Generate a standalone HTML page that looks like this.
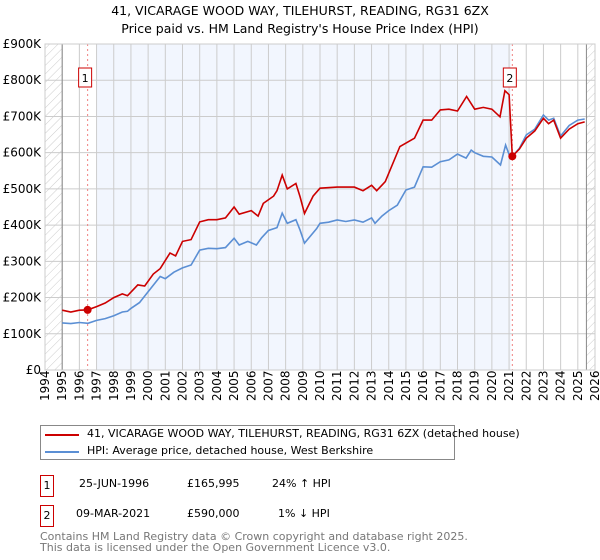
<!DOCTYPE html>
<html><head><meta charset="utf-8"><style>
body{margin:0;background:#fff;font-family:"DejaVu Sans","Liberation Sans",sans-serif;}
#wrap{position:relative;width:600px;height:560px;overflow:hidden}
.t{position:absolute;font-size:12px;color:#000;white-space:nowrap}
svg text{font-family:"DejaVu Sans","Liberation Sans",sans-serif}
</style></head><body><div id="wrap">
<svg id="svg" width="600" height="560" style="position:absolute;left:0;top:0">
<defs><pattern id="hatch" width="6" height="6" patternUnits="userSpaceOnUse" patternTransform="rotate(45)"><line x1="0" y1="0" x2="0" y2="6" stroke="#ccc" stroke-width="1"/></pattern></defs>
<text x="300" y="15" text-anchor="middle" font-size="12.5">41, VICARAGE WOOD WAY, TILEHURST, READING, RG31 6ZX</text>
<text x="300" y="33" text-anchor="middle" font-size="12.5">Price paid vs. HM Land Registry's House Price Index (HPI)</text>
<g id="plot"></g>
</svg>
<div class="t" style="left:40px;top:425px;width:415px;height:35px;border:1px solid #888;box-sizing:border-box"></div>
<div style="position:absolute;left:45px;top:434px;width:34px;height:2px;background:#cc0000"></div>
<div class="t" style="left:87px;top:427px;font-size:11px">41, VICARAGE WOOD WAY, TILEHURST, READING, RG31 6ZX (detached house)</div>
<div style="position:absolute;left:45px;top:451px;width:34px;height:2px;background:#5b8fd4"></div>
<div class="t" style="left:87px;top:444px;font-size:11px">HPI: Average price, detached house, West Berkshire</div>
<div class="t" style="left:40px;top:475px;width:12px;height:20px;border:1px solid #c00;text-align:center;line-height:20px;font-size:11px">1</div>
<div class="t" style="left:79px;top:477px;font-size:11px">25-JUN-1996</div>
<div class="t" style="left:187px;top:477px;font-size:11px">£165,995</div>
<div class="t" style="left:272px;top:477px;font-size:11px">24% ↑ HPI</div>
<div class="t" style="left:40px;top:505px;width:12px;height:20px;border:1px solid #c00;text-align:center;line-height:20px;font-size:11px">2</div>
<div class="t" style="left:76px;top:507px;font-size:11px">09-MAR-2021</div>
<div class="t" style="left:187px;top:507px;font-size:11px">£590,000</div>
<div class="t" style="left:278px;top:507px;font-size:11px">1% ↓ HPI</div>
<div class="t" style="left:40px;top:531px;font-size:11px;color:#777;line-height:11px">Contains HM Land Registry data © Crown copyright and database right 2025.<br>This data is licensed under the Open Government Licence v3.0.</div>
</div>
<script>
const hpiYears=[1995,1995.5,1996,1996.5,1997,1997.5,1998,1998.5,1998.8,1999,1999.5,2000,2000.7,2001,2001.5,2002,2002.5,2003,2003.5,2004,2004.5,2005,2005.3,2005.8,2006.3,2006.6,2007,2007.5,2007.8,2008.1,2008.6,2008.84,2009.1,2009.8,2010,2010.5,2011,2011.5,2012,2012.5,2013,2013.2,2013.6,2014,2014.5,2015,2015.5,2016,2016.5,2017,2017.5,2018,2018.5,2018.8,2019,2019.5,2020,2020.5,2020.8,2021,2021.2,2021.6,2022,2022.5,2023,2023.3,2023.6,2024,2024.5,2025,2025.4];
const hpiValues=[130,128,131,129,137,142,150,160,162,170,186,216,258,252,270,282,290,331,336,335,338,364,345,355,345,365,385,393,433,405,415,386,350,390,405,408,414,410,414,408,420,405,425,440,455,497,505,561,560,575,580,596,585,607,600,590,588,566,621,595,590,612,649,665,704,690,695,646,675,690,693];
const saleYears=[1995,1995.5,1996,1996.48,1997,1997.5,1998,1998.5,1998.8,1999.4,1999.8,2000.3,2000.7,2001.27,2001.6,2002,2002.5,2003,2003.5,2004,2004.5,2005,2005.3,2006,2006.4,2006.7,2007.3,2007.5,2007.8,2008.1,2008.6,2008.84,2009.1,2009.6,2010,2011,2012,2012.5,2013,2013.3,2013.8,2014.65,2015.5,2016,2016.5,2017,2017.5,2018,2018.53,2019,2019.5,2020,2020.47,2020.76,2021.0,2021.19,2021.6,2022,2022.5,2023,2023.3,2023.6,2024,2024.5,2025,2025.4];
const saleValues=[165,160,165,166,175,185,200,210,205,235,232,265,280,323,315,355,360,409,415,415,420,450,430,440,425,460,480,495,538,500,515,478,432,480,502,505,505,495,510,495,520,617,640,690,690,718,720,715,755,720,725,720,699,771,760,590,610,640,660,695,680,690,640,665,680,685];
const yTicks=[0,100,200,300,400,500,600,700,800,900];
const yTickLabels=["£0","£100K","£200K","£300K","£400K","£500K","£600K","£700K","£800K","£900K"];
const xTicks=[1994,1995,1996,1997,1998,1999,2000,2001,2002,2003,2004,2005,2006,2007,2008,2009,2010,2011,2012,2013,2014,2015,2016,2017,2018,2019,2020,2021,2022,2023,2024,2025,2026];
const sales=[[1996.48,166,"1"],[2021.19,590,"2"]];
const L=45,R=595,T=44,B=370;
const x=v=>L+(v-1994)/32*(R-L);
const y=v=>B-v/900*(B-T);
const g=document.getElementById('plot');
const NS='http://www.w3.org/2000/svg';
function mk(tag,attrs){const e=document.createElementNS(NS,tag);for(const k in attrs)e.setAttribute(k,attrs[k]);g.appendChild(e);return e;}
let e;
e=mk('rect',{x:x(1997),y:T,width:x(2021.1)-x(1997),height:B-T,fill:'#f2f6fe'});


e=mk('rect',{x:L,y:T,width:x(1995)-L,height:B-T,fill:'url(#hatch)'});


e=mk('rect',{x:x(2025.5),y:T,width:R-x(2025.5),height:B-T,fill:'url(#hatch)'});


xTicks.forEach(t=>{e=mk('line',{x1:x(t),x2:x(t),y1:T,y2:B,stroke:'#ccc'});


e=mk('text',{x:0,y:0,transform:`translate(${x(t)+4},${B+31}) rotate(-90)`,'font-size':12});e.textContent=t;

});
yTicks.forEach((t,i)=>{e=mk('line',{x1:L,x2:R,y1:y(t),y2:y(t),stroke:'#ccc'});


e=mk('text',{x:L-4,y:y(t)+4,'text-anchor':'end','font-size':12});e.textContent=yTickLabels[i];

});
e=mk('line',{x1:x(1995),x2:x(1995),y1:T,y2:B,stroke:'#888'});


e=mk('line',{x1:x(2025.5),x2:x(2025.5),y1:T,y2:B,stroke:'#888'});


sales.forEach(s=>{e=mk('line',{x1:x(s[0]),x2:x(s[0]),y1:T,y2:B,stroke:'#f08080','stroke-dasharray':'2,3'});

});
const pts=(xs,vs)=>xs.map((t,i)=>x(t).toFixed(1)+','+y(vs[i]).toFixed(1)).join(' ');
e=mk('polyline',{points:pts(hpiYears,hpiValues),fill:'none',stroke:'#5b8fd4','stroke-width':1.6});


e=mk('polyline',{points:pts(saleYears,saleValues),fill:'none',stroke:'#cc0000','stroke-width':1.6});


sales.forEach(s=>{e=mk('circle',{cx:x(s[0]),cy:y(s[1]),r:4,fill:'#cc0000'});


e=mk('rect',{x:x(s[0])-9,y:68,width:13,height:19,fill:'#fff',stroke:'#c00'});


e=mk('text',{x:x(s[0])-2.5,y:82,'text-anchor':'middle','font-size':11});e.textContent=s[2];

});
e=mk('rect',{x:L,y:T,width:R-L,height:B-T,fill:'none',stroke:'#ccc'});


</script></body></html>
